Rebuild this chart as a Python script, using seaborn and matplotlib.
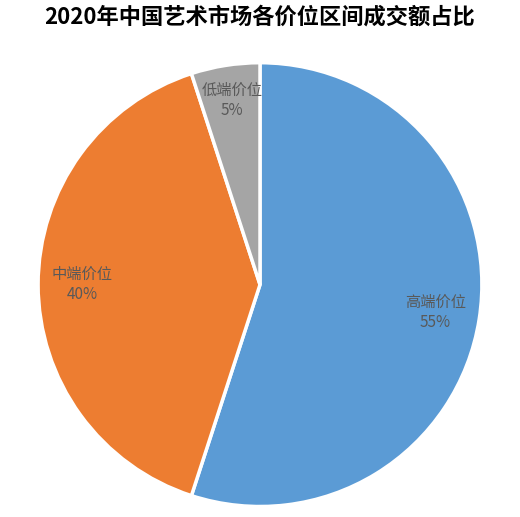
import matplotlib
matplotlib.use("Agg")
import matplotlib.pyplot as plt
import seaborn as sns

categories = ["高端价位", "中端价位", "低端价位"]
values = [55, 40, 5]
colors = ["#5B9BD5", "#ED7D31", "#A5A5A5"]

sns.set_theme(style="white")
plt.rcParams['font.family'] = ['Noto Sans CJK SC', 'DejaVu Sans']

fig = plt.figure(figsize=(5.2, 5.17), dpi=100)
ax = fig.add_axes([0.069, 0.016, 0.862, 0.867])
labels = [f"{c}\n{v}%" for c, v in zip(categories, values)]
wedges, texts = ax.pie(values, colors=colors, startangle=90, counterclock=False,
                       labels=labels, labeldistance=0.8,
                       wedgeprops=dict(edgecolor="white", linewidth=2.5),
                       textprops=dict(color="#595959", fontsize=11, ha="center", va="center"))
texts[2].set_position((texts[2].get_position()[0], texts[2].get_position()[1] + 0.04))
ax.set_xlim(-1.01, 1.01)
ax.set_ylim(-1.01, 1.01)
ax.set_aspect("equal")
fig.suptitle("2020年中国艺术市场各价位区间成交额占比", fontsize=16, fontweight="bold",
             color="black", y=0.99)
fig.savefig("out.png", dpi=100)
